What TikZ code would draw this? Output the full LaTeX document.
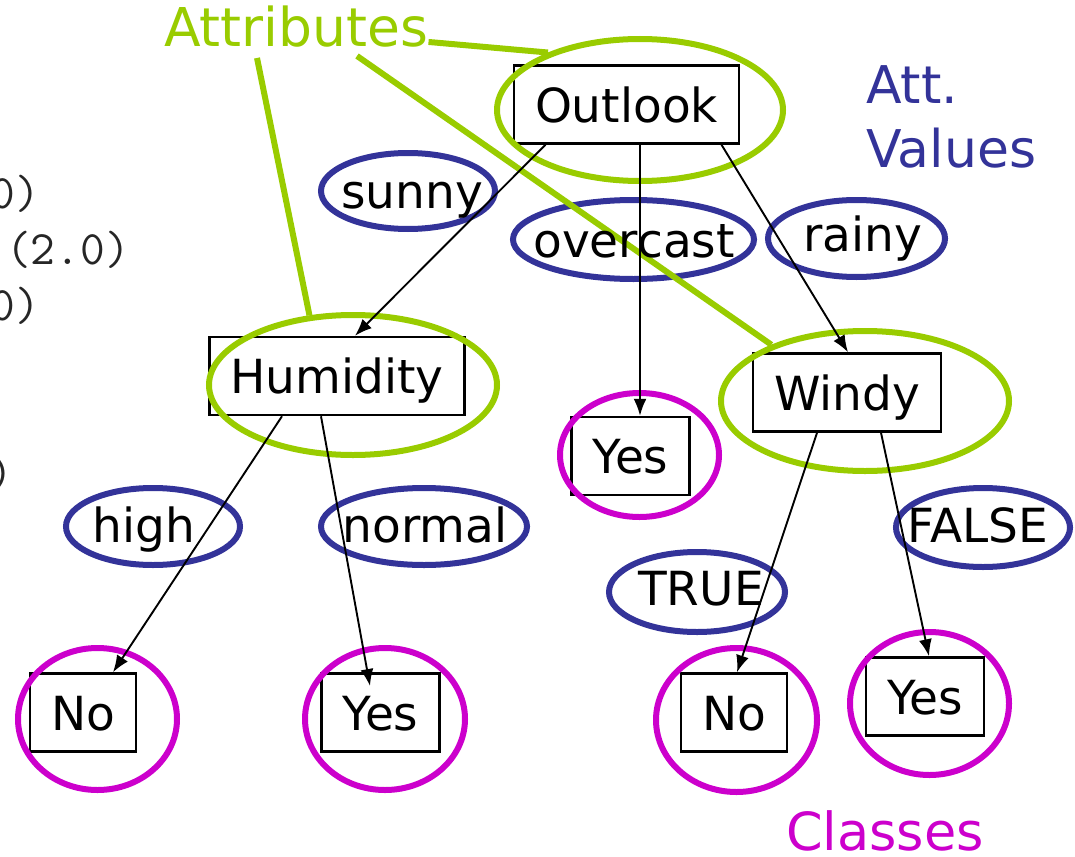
\documentclass[tikz,border=0pt]{standalone}
\usepackage{fontspec}
\setmainfont{DejaVu Sans}
\usetikzlibrary{arrows.meta,shapes.geometric}
\definecolor{attgreen}{HTML}{99CC00}
\definecolor{valblue}{HTML}{333399}
\definecolor{clsmagenta}{HTML}{CC00CC}

\begin{document}
\begin{tikzpicture}[x=1pt,y=-1pt]


\tikzset{TreeBox/.style = {draw, line width=2.5pt, inner xsep=21pt, inner ysep=0pt,
                           minimum height=78pt, text height=35pt, text depth=0pt,
                           font=\fontsize{47}{56}\selectfont},
         ValText/.style = {anchor=base, inner sep=0pt, font=\fontsize{47}{56}\selectfont},
         Ring/.style    = {ellipse, draw=#1, line width=6pt, inner sep=0pt},
         Pointer/.style = {draw=attgreen, line width=6pt},
         Flow/.style    = {-{Latex[length=17pt,width=13pt]}, line width=1.9pt},
         CodeText/.style = {anchor=base east, inner sep=0pt, text=black!85,
                            font=\ttfamily\fontsize{48}{56}\selectfont}}

\useasboundingbox (0,0) rectangle (1075,856);

\node[CodeText] (code1) at (40,208) {0)};
\node[CodeText] (code2) at (130,264) {(2.0)};
\node[CodeText] (code3) at (40,320) {0)};
\node[CodeText] (code4) at (13,488) {)};

\node[TreeBox] (outlook)  at (626.5,104.5) {Outlook};
\node[TreeBox] (humidity) at (337,376)     {Humidity};
\node[TreeBox] (yes1)     at (630.5,456)   {Yes};
\node[TreeBox] (windy)    at (847,392.5)   {Windy};
\node[TreeBox] (no1)      at (83,712.5)    {No};
\node[TreeBox] (yes2)     at (380.5,712.5) {Yes};
\node[TreeBox] (no2)      at (734,712.5)   {No};
\node[TreeBox] (yes3)     at (925,696.5)   {Yes};

\node[Ring=attgreen, minimum width=286pt, minimum height=142pt] (outlookring)  at (640,110) {};
\node[Ring=attgreen, minimum width=288pt, minimum height=140pt] (humidityring) at (353,385) {};
\node[Ring=attgreen, minimum width=288pt, minimum height=140pt] (windyring)    at (865,401) {};

\node[Ring=valblue, minimum width=174pt, minimum height=76pt] (sunnyring)    at (408,191)     {};
\node[Ring=valblue, minimum width=241pt, minimum height=79pt] (overcastring) at (633.5,239.5) {};
\node[Ring=valblue, minimum width=177pt, minimum height=77pt] (rainyring)    at (856.5,238.5) {};
\node[Ring=valblue, minimum width=174pt, minimum height=77pt] (highring)     at (153,526.5)   {};
\node[Ring=valblue, minimum width=206pt, minimum height=77pt] (normalring)   at (424,526.5)   {};
\node[Ring=valblue, minimum width=176pt, minimum height=80pt] (truering)     at (697,592)     {};
\node[Ring=valblue, minimum width=174pt, minimum height=79pt] (falsering)    at (983,527.5)   {};

\node[Ring=clsmagenta, minimum width=159pt, minimum height=124pt] (yes1ring) at (639.5,455)   {};
\node[Ring=clsmagenta, minimum width=159pt, minimum height=142pt] (no1ring)  at (97.5,719)    {};
\node[Ring=clsmagenta, minimum width=160pt, minimum height=142pt] (yes2ring) at (385,719)     {};
\node[Ring=clsmagenta, minimum width=161pt, minimum height=144pt] (no2ring)  at (736.5,720)   {};
\node[Ring=clsmagenta, minimum width=159pt, minimum height=143pt] (yes3ring) at (929.5,703.5) {};

\node[anchor=base west, inner sep=0pt, text=attgreen, font=\fontsize{53.5}{62}\selectfont] (attributes) at (164,47) {Attributes};
\node[anchor=north west, inner sep=0pt, align=left, text=valblue, font=\fontsize{52}{64}\selectfont] (attvalues) at (866,65) {Att.\\Values};
\node[anchor=base west, inner sep=0pt, text=clsmagenta, font=\fontsize{52.5}{62}\selectfont] (classes) at (786,850) {Classes};

\draw[Pointer] ([yshift=6pt]attributes.south east) -- (outlookring.148);
\draw[Pointer] ([xshift=93pt,yshift=-10pt]attributes.south west) -- (humidityring.122);
\draw[Pointer] ([xshift=193pt,yshift=-8pt]attributes.south west) -- (windyring.149);

\node[ValText] (sunny)    at (412,208) {sunny};
\node[ValText] (overcast) at (634,257) {overcast};
\node[ValText] (rainy)    at (863,251) {rainy};
\node[ValText] (high)     at (144,542) {high};
\node[ValText] (normal)   at (425,542) {normal};
\node[ValText] (true)     at (701,605) {TRUE};
\node[ValText] (false)    at (978,542) {FALSE};

\draw[Flow] ([xshift=-81pt]outlook.south) -- ([xshift=18pt]humidity.north);
\draw[Flow] ([xshift=13.5pt]outlook.south) -- ([xshift=9.5pt]yes1.north);
\draw[Flow] ([xshift=95pt]outlook.south) -- ([xshift=1pt]windy.north);
\draw[Flow] ([xshift=-55pt]humidity.south) -- ([xshift=30pt]no1.north);
\draw[Flow, shorten >=-14pt] ([xshift=-16pt]humidity.south) -- ([xshift=-13pt]yes2.north);
\draw[Flow] ([xshift=-30pt]windy.south) -- ([xshift=3pt]no2.north);
\draw[Flow] ([xshift=34pt]windy.south) -- ([xshift=4pt]yes3.north);

\end{tikzpicture}
\end{document}
